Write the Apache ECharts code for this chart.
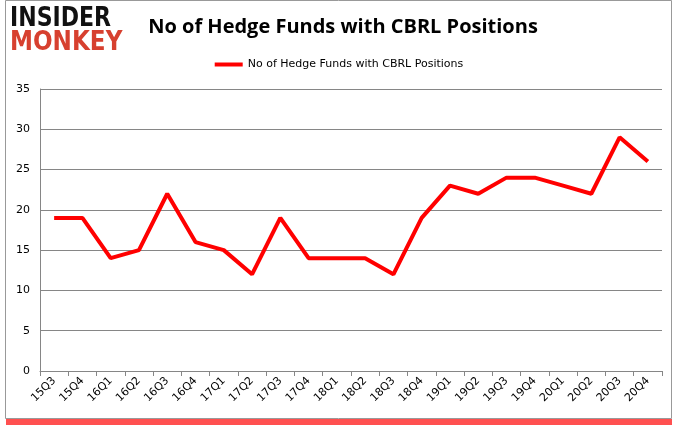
<!DOCTYPE html>
<html><head><meta charset="utf-8">
<script src="https://cdn.jsdelivr.net/npm/echarts@6/dist/echarts.min.js"></script>
<style>html,body{margin:0;padding:0;background:#fff}#c{width:678px;height:431px}</style>
</head><body><div id="c"></div>
<script>
const categories = ['15Q3','15Q4','16Q1','16Q2','16Q3','16Q4','17Q1','17Q2','17Q3','17Q4','18Q1','18Q2','18Q3','18Q4','19Q1','19Q2','19Q3','19Q4','20Q1','20Q2','20Q3','20Q4'];
const values = [19,19,14,15,22,16,15,12,19,14,14,14,12,19,23,22,24,24,23,22,29,26];
const seriesName = 'No of Hedge Funds with CBRL Positions';
const chart = echarts.init(document.getElementById('c'));
chart.setOption({
  animation: false,
  title: {text: seriesName, left: 338, top: 12, textAlign: 'center',
    textStyle: {fontFamily: 'Open Sans', fontSize: 20, fontWeight: 'bold', color: '#000'}},
  legend: {top: 54, left: 'center', itemWidth: 28, itemHeight: 4, icon: 'rect', itemGap: 4,
    textStyle: {fontFamily: 'DejaVu Sans', fontSize: 11, color: '#000'}, data: [seriesName]},
  grid: {left: 40, right: 16, top: 89, bottom: 60, containLabel: false},
  xAxis: {type: 'category', data: categories, boundaryGap: true,
    axisLine: {lineStyle: {color: '#868686'}}, axisTick: {show: true, lineStyle: {color: '#868686'}},
    axisLabel: {rotate: 45, fontFamily: 'DejaVu Sans', fontSize: 11, color: '#000', margin: 8, interval: 0}},
  yAxis: {type: 'value', min: 0, max: 35, interval: 5,
    axisLine: {show: true, lineStyle: {color: '#868686'}}, axisTick: {show: false},
    splitLine: {lineStyle: {color: '#868686'}},
    axisLabel: {fontFamily: 'DejaVu Sans', fontSize: 11, color: '#000', margin: 10}},
  series: [{name: seriesName, type: 'line', data: values, symbol: 'none',
    lineStyle: {color: '#ff0000', width: 4}, itemStyle: {color: '#ff0000'}}],
  graphic: [
    {type: 'rect', shape: {x: 6, y: 419, width: 666, height: 6}, style: {fill: '#ff5050'}, z: -1},
    {type: 'rect', shape: {x: 5.5, y: 0.5, width: 666, height: 418}, style: {fill: '#fff', stroke: '#999', lineWidth: 1}, z: -1},
    {type: 'text', x: 10, y: 6, scaleX: 1.05, scaleY: 1.25, style: {text: 'INSIDER', fontFamily: 'DejaVu Sans', fontWeight: 'bold', fontSize: 21, fill: '#111'}},
    {type: 'text', x: 10, y: 30, scaleX: 1.1, scaleY: 1.25, style: {text: 'MONKEY', fontFamily: 'DejaVu Sans', fontWeight: 'bold', fontSize: 21, fill: '#d7402f'}}
  ]
});
</script></body></html>
